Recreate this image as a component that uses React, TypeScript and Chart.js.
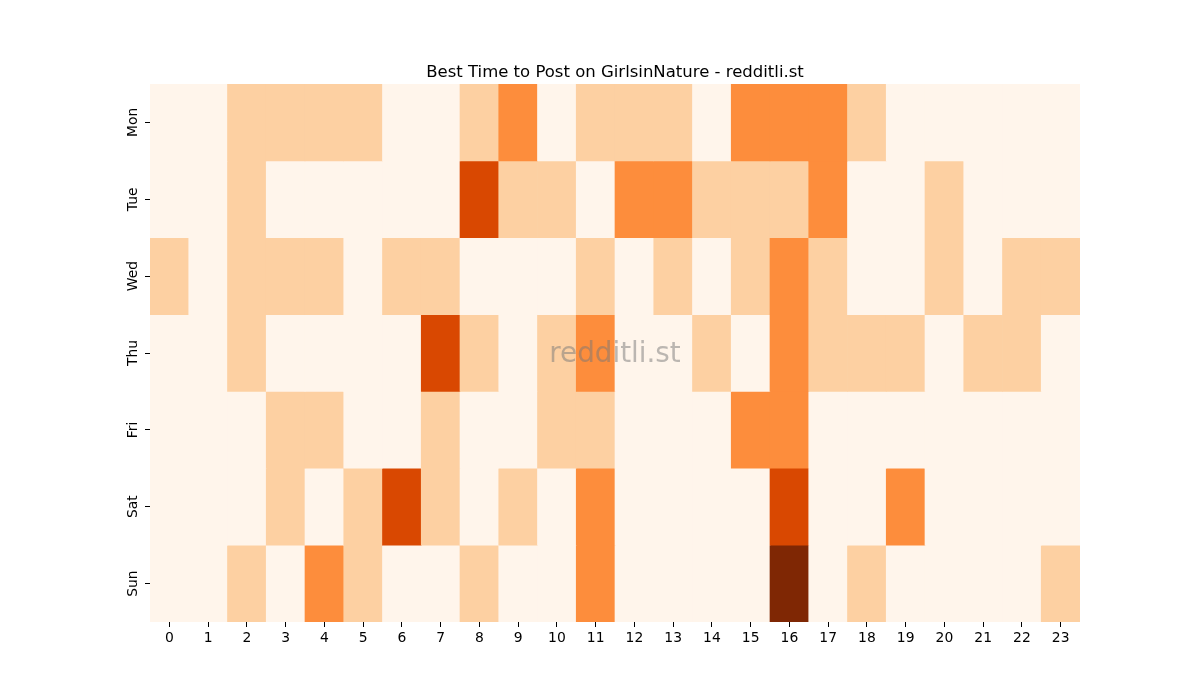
import { useEffect, useRef } from "react";
import { Chart, registerables } from "chart.js";

Chart.register(...registerables);

// heatmap data: posting score level (0-4) per hour, one row per weekday
const hours = ["0", "1", "2", "3", "4", "5", "6", "7", "8", "9", "10", "11", "12", "13", "14", "15", "16", "17", "18", "19", "20", "21", "22", "23"];
const days = ["Mon", "Tue", "Wed", "Thu", "Fri", "Sat", "Sun"];

const mon = [0, 0, 1, 1, 1, 1, 0, 0, 1, 2, 0, 1, 1, 1, 0, 2, 2, 2, 1, 0, 0, 0, 0, 0];
const tue = [0, 0, 1, 0, 0, 0, 0, 0, 3, 1, 1, 0, 2, 2, 1, 1, 1, 2, 0, 0, 1, 0, 0, 0];
const wed = [1, 0, 1, 1, 1, 0, 1, 1, 0, 0, 0, 1, 0, 1, 0, 1, 2, 1, 0, 0, 1, 0, 1, 1];
const thu = [0, 0, 1, 0, 0, 0, 0, 3, 1, 0, 1, 2, 0, 0, 1, 0, 2, 1, 1, 1, 0, 1, 1, 0];
const fri = [0, 0, 0, 1, 1, 0, 0, 1, 0, 0, 1, 1, 0, 0, 0, 2, 2, 0, 0, 0, 0, 0, 0, 0];
const sat = [0, 0, 0, 1, 0, 1, 3, 1, 0, 1, 0, 2, 0, 0, 0, 0, 3, 0, 0, 2, 0, 0, 0, 0];
const sun = [0, 0, 1, 0, 2, 1, 0, 0, 1, 0, 0, 2, 0, 0, 0, 0, 4, 0, 1, 0, 0, 0, 0, 1];

const rows = [mon, tue, wed, thu, fri, sat, sun];

// matplotlib "Oranges" steps
const levelColors = ["#fff5eb", "#fdd0a2", "#fd8d3c", "#d94801", "#7f2704"];

const FONT = "'DejaVu Sans', sans-serif";

// title, rotated day labels and the watermark
const overlayPlugin = {
  id: "overlay",
  afterDraw(chart: Chart) {
    const { ctx, chartArea } = chart;
    const yScale = chart.scales.y;
    ctx.save();

    ctx.fillStyle = "#000";
    ctx.font = `16.5px ${FONT}`;
    ctx.textAlign = "center";
    ctx.textBaseline = "alphabetic";
    ctx.fillText("Best Time to Post on GirlsinNature - redditli.st", (chartArea.left + chartArea.right) / 2, 77);

    ctx.font = `13.9px ${FONT}`;
    ctx.textBaseline = "middle";
    days.forEach((d, i) => {
      const y = yScale.getPixelForValue(i + 0.5);
      ctx.save();
      ctx.translate(chartArea.left - 17, y);
      ctx.rotate(-Math.PI / 2);
      ctx.fillText(d, 0, 0);
      ctx.restore();
    });

    ctx.font = `27.8px ${FONT}`;
    ctx.fillStyle = "rgba(120,120,120,0.5)";
    ctx.fillText("redditli.st", (chartArea.left + chartArea.right) / 2, (chartArea.top + chartArea.bottom) / 2 + 2);

    ctx.restore();
  },
};

export default function App() {
  const canvasRef = useRef<HTMLCanvasElement>(null);

  useEffect(() => {
    document.body.style.margin = "0";
    if (!canvasRef.current) return;

    const chart = new Chart(canvasRef.current, {
      type: "bar",
      data: {
        labels: hours,
        datasets: rows.map((vals, d) => ({
          label: days[d],
          data: vals.map(() => [d, d + 1]),
          backgroundColor: vals.map((v) => levelColors[v]),
          borderWidth: 0,
          barPercentage: 1,
          categoryPercentage: 1,
          grouped: false,
        })),
      },
      options: {
        responsive: false,
        animation: false,
        devicePixelRatio: 1,
        layout: { padding: { top: 84, right: 120, bottom: 0, left: 0 } },
        plugins: {
          legend: { display: false },
          tooltip: { enabled: false },
          title: { display: false },
        },
        scales: {
          x: {
            type: "category",
            border: { display: false },
            grid: {
              offset: false,
              drawOnChartArea: false,
              drawTicks: true,
              tickLength: 5,
              color: "#000",
              lineWidth: 1,
            },
            ticks: {
              color: "#000",
              font: { family: FONT, size: 13.9 },
              padding: 3,
              autoSkip: false,
              maxRotation: 0,
            },
            afterFit(scale: any) {
              scale.height = 78;
            },
          },
          y: {
            type: "linear",
            min: 0,
            max: 7,
            reverse: true,
            border: { display: false },
            grid: {
              drawOnChartArea: false,
              drawTicks: true,
              tickLength: 5,
              color: "#000",
              lineWidth: 1,
            },
            ticks: { display: false },
            afterBuildTicks(scale: any) {
              scale.ticks = days.map((_, i) => ({ value: i + 0.5 }));
            },
            afterFit(scale: any) {
              scale.width = 150;
            },
          },
        },
      },
      plugins: [overlayPlugin],
    });

    return () => {
      chart.destroy();
    };
  }, []);

  return (
    <div style={{ width: 1200, height: 700, background: "#fff" }}>
      <canvas ref={canvasRef} width={1200} height={700}></canvas>
    </div>
  );
}
